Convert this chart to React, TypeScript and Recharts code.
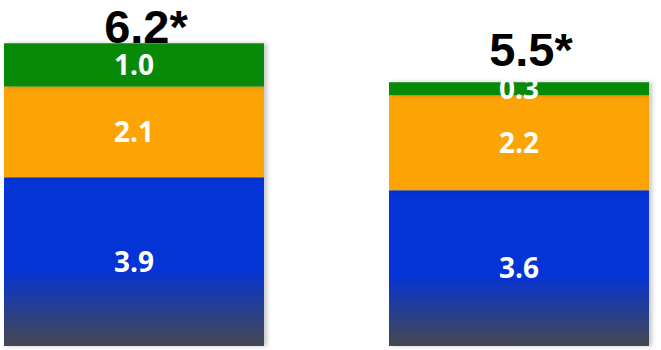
import { Bar, BarChart, LabelList, XAxis, YAxis } from "recharts";

const periods = ["Period 1", "Period 2"];
const baseValues = [3.9, 3.6];
const middleValues = [2.1, 2.2];
const topValues = [1.0, 0.3];
const totalLabels = ["6.2*", "5.5*"];

// how far each total label sits above its bar
const totalLift = [0, 16];

const data = periods.map((p, i) => ({
  period: p,
  base: baseValues[i],
  middle: middleValues[i],
  top: topValues[i],
}));

const segLabel = {
  fill: "#ffffff",
  fontFamily: "'Open Sans', sans-serif",
  fontWeight: 700,
  fontSize: 28,
};

function TotalLabel(props: any) {
  const { x, y, width, index } = props;
  return (
    <text
      x={x + width / 2 + 12}
      y={y - totalLift[index]}
      textAnchor="middle"
      fontFamily="'Liberation Sans', Arial, sans-serif"
      fontWeight={700}
      fontSize={47}
      fill="#000000"
    >
      {totalLabels[index]}
    </text>
  );
}

export default function App() {
  return (
    <div style={{ position: "absolute", left: 0, top: 0, background: "#fff" }}>
      <style>{`.recharts-bar-rectangle path { filter: drop-shadow(3px 0 2px rgba(0,0,0,0.22)); }`}</style>
      <BarChart
        width={661}
        height={350}
        data={data}
        barSize={260}
        margin={{ top: 0, right: -50, bottom: 4, left: -59 }}
      >
        <defs>
          <linearGradient id="baseFade" x1="0" y1="0" x2="0" y2="1">
            <stop offset="0%" stopColor="#0433d6" />
            <stop offset="54%" stopColor="#0433d6" />
            <stop offset="100%" stopColor="#46484f" />
          </linearGradient>
        </defs>
        <XAxis
          dataKey="period"
          tick={false}
          tickLine={false}
          height={0}
          axisLine={{ stroke: "#a3a3a3", strokeWidth: 2 }}
        />
        <YAxis hide domain={[0, 8]} />
        <Bar dataKey="base" stackId="s" fill="url(#baseFade)" isAnimationActive={false}>
          <LabelList dataKey="base" position="center" {...segLabel} />
        </Bar>
        <Bar dataKey="middle" stackId="s" fill="#fca406" isAnimationActive={false}>
          <LabelList dataKey="middle" position="center" {...segLabel} />
        </Bar>
        <Bar dataKey="top" stackId="s" fill="#078a08" isAnimationActive={false}>
          <LabelList
            dataKey="top"
            position="center"
            {...segLabel}
            formatter={(v: any) => Number(v).toFixed(1)}
          />
          <LabelList dataKey="top" content={<TotalLabel />} />
        </Bar>
      </BarChart>
    </div>
  );
}
